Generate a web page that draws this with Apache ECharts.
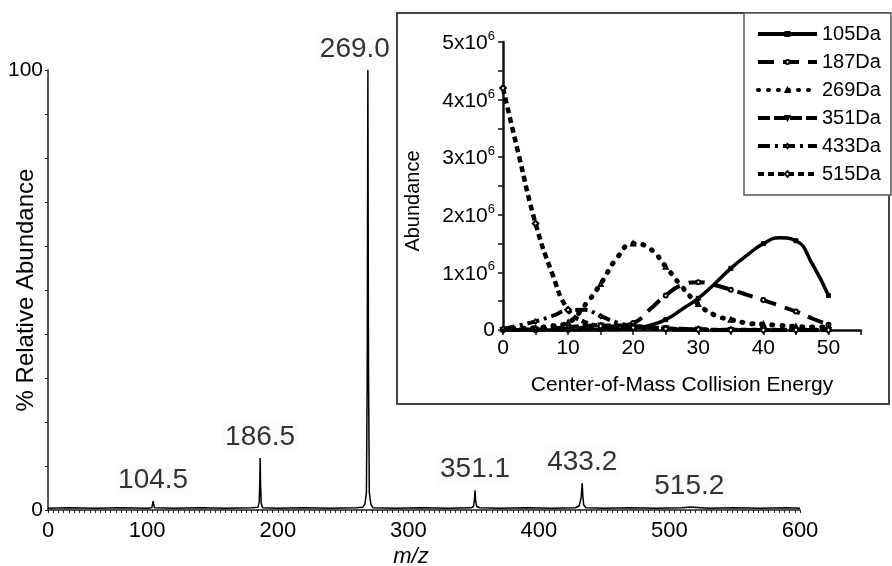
<!DOCTYPE html>
<html>
<head>
<meta charset="utf-8">
<script src="https://cdn.jsdelivr.net/npm/echarts@6/dist/echarts.min.js"></script>
<style>
html, body { margin: 0; padding: 0; background: #fff; }
#main { width: 892px; height: 566px; }
</style>
</head>
<body>
<div id="main"></div>
<script>
var FONT = '"Liberation Sans", Arial, Helvetica, sans-serif';

// spectrum trace: m/z and % relative abundance
var specMz = [24, 40, 60, 80, 100, 103.5, 104.1, 104.5, 104.9, 105.6, 120, 140, 160, 180,
    184.8, 185.8, 186.2, 186.5, 186.8, 187.3, 188.3, 200, 220, 240, 260,
    265, 266.8, 267.9, 268.5, 269.0, 269.5, 270.1, 271.3, 273, 290, 310, 330,
    348, 349.9, 350.6, 351.1, 351.6, 352.4, 354.5, 370, 390, 410,
    428, 430.8, 432.3, 432.8, 433.2, 433.6, 434.3, 436, 450, 470, 490,
    510, 514, 514.8, 515.2, 515.6, 516.5, 530, 550, 570, 590, 600];
var specInt = [0.4, 0.5, 0.4, 0.5, 0.4, 0.5, 1.4, 2.0, 1.3, 0.5, 0.4, 0.5, 0.4, 0.5,
    0.6, 1.8, 6, 11.8, 6, 1.6, 0.5, 0.4, 0.5, 0.4, 0.5,
    0.6, 1.4, 4, 30, 100, 32, 4, 1.3, 0.5, 0.4, 0.5, 0.4,
    0.5, 0.8, 2.2, 4.5, 2.0, 0.8, 0.5, 0.4, 0.5, 0.4,
    0.5, 0.9, 2.6, 4.5, 6.1, 3.5, 1.2, 0.5, 0.4, 0.5, 0.4,
    0.5, 0.6, 0.8, 0.8, 0.7, 0.5, 0.4, 0.5, 0.4, 0.5, 0.4];

// labelled peaks
var peakMz = [104.5, 186.5, 269.0, 351.1, 433.2, 515.2];
var peakInt = [2.0, 11.8, 100, 4.5, 6.1, 0.8];

// x tick labels of the spectrum (the "0" sits at the axis start)
var mzStart = 24;
var mzLabels = [100, 200, 300, 400, 500, 600];

// inset: abundance versus centre-of-mass collision energy
var energy = [0, 2.5, 5, 7.5, 10, 12.5, 15, 17.5, 20, 22.5, 25, 27.5, 30,
    32.5, 35, 37.5, 40, 42.5, 45, 47.5, 50];
var ionNames = ['105Da', '187Da', '269Da', '351Da', '433Da', '515Da'];
var da105 = [0, 0, 0, 0, 0, 0, 0.01e6, 0.01e6, 0.03e6, 0.08e6, 0.18e6, 0.36e6, 0.55e6,
    0.8e6, 1.07e6, 1.3e6, 1.5e6, 1.6e6, 1.55e6, 1.15e6, 0.6e6];
var da187 = [0, 0, 0, 0.01e6, 0.02e6, 0.04e6, 0.05e6, 0.07e6, 0.12e6, 0.35e6, 0.6e6, 0.78e6, 0.83e6,
    0.78e6, 0.7e6, 0.61e6, 0.52e6, 0.42e6, 0.32e6, 0.2e6, 0.09e6];
var da269 = [0.02e6, 0.03e6, 0.04e6, 0.07e6, 0.13e6, 0.42e6, 0.8e6, 1.25e6, 1.5e6, 1.42e6, 1.1e6, 0.75e6, 0.45e6,
    0.26e6, 0.18e6, 0.12e6, 0.1e6, 0.08e6, 0.06e6, 0.05e6, 0.05e6];
var da351 = [0, 0.01e6, 0.01e6, 0.03e6, 0.05e6, 0.07e6, 0.08e6, 0.08e6, 0.07e6, 0.05e6, 0.03e6, 0.02e6, 0.01e6,
    0, 0, 0, 0, 0, 0, 0, 0];
var da433 = [0.02e6, 0.08e6, 0.15e6, 0.24e6, 0.34e6, 0.35e6, 0.24e6, 0.13e6, 0.07e6, 0.04e6, 0.02e6, 0.01e6, 0.01e6,
    0, 0, 0, 0, 0, 0, 0, 0];
var da515 = [4.2e6, 3.0e6, 1.85e6, 1.0e6, 0.35e6, 0.14e6, 0.07e6, 0.05e6, 0.04e6, 0.03e6, 0.02e6, 0.01e6, 0.01e6,
    0, 0, 0, 0, 0, 0, 0, 0];

function pairs(xs, ys) {
    return xs.map(function (x, i) { return [x, ys[i]]; });
}

var chart = echarts.init(document.getElementById('main'));

var curveStyles = [
    { data: da105, dash: 'solid', width: 3.5, symbol: 'rect', rotate: 0 },
    { data: da187, dash: [16, 9], width: 4, symbol: 'emptyCircle', rotate: 0 },
    { data: da269, dash: [1, 9], width: 5, symbol: 'emptyTriangle', rotate: 0, cap: 'round' },
    { data: da351, dash: [12, 4], width: 4, symbol: 'emptyTriangle', rotate: 180 },
    { data: da433, dash: [12, 5, 3, 5], width: 4, symbol: 'emptyDiamond', rotate: 0 },
    { data: da515, dash: [6, 4], width: 4.5, symbol: 'emptyRect', rotate: 45 }
];

var insetSeries = curveStyles.map(function (c, i) {
    return {
        name: ionNames[i],
        type: 'line',
        xAxisIndex: 1,
        yAxisIndex: 1,
        smooth: 0.5,
        symbol: c.symbol,
        symbolRotate: c.rotate,
        // markers only on the 5-unit energy steps
        symbolSize: function (v) { return v[0] % 5 === 0 ? 4 : 0; },
        showSymbol: true,
        itemStyle: { color: '#000', borderColor: '#000', borderWidth: 1 },
        lineStyle: { color: '#000', width: c.width, type: c.dash, cap: c.cap || 'butt' },
        data: pairs(energy, c.data),
        z: 3
    };
});

var legendData = curveStyles.map(function (c, i) {
    return {
        name: ionNames[i],
        lineStyle: { width: 4, type: c.dash, cap: c.cap || 'butt' }
    };
});

var peakData = peakMz.map(function (m, i) {
    var item = { value: [m, peakInt[i]] };
    if (m === 269.0) {
        item.label = { offset: [-13, 0] };
    }
    return item;
});

var option = {
    backgroundColor: '#fff',
    animation: false,
    textStyle: { fontFamily: FONT, color: '#000' },
    grid: [
        { left: 48, right: 92, top: 70, bottom: 56, containLabel: false, outerBoundsMode: 'none' },
        { left: 503, right: 31, top: 42, bottom: 236, containLabel: false, outerBoundsMode: 'none' }
    ],
    legend: {
        data: legendData,
        orient: 'vertical',
        left: 744,
        top: 13,
        padding: [11, 10, 11, 12],
        itemGap: 8,
        itemWidth: 59,
        itemHeight: 5,
        itemTextGap: 3,
        selectedMode: false,
        backgroundColor: '#fff',
        borderColor: '#555',
        borderWidth: 1.5,
        borderRadius: 0,
        textStyle: { fontFamily: FONT, fontSize: 20, color: '#000' },
        z: 10
    },
    xAxis: [
        {
            type: 'value',
            gridIndex: 0,
            min: mzStart,
            max: 600,
            interval: 4,
            name: 'm/z',
            nameLocation: 'middle',
            nameGap: 36,
            nameMoveOverlap: false,
            nameTextStyle: { fontFamily: FONT, fontSize: 22, fontStyle: 'italic', color: '#000', padding: [0, 26, 0, 0] },
            axisLine: { lineStyle: { color: '#222', width: 1.5 } },
            axisTick: { length: 3, lineStyle: { color: '#222', width: 1 } },
            splitLine: { show: false },
            axisLabel: {
                fontSize: 22,
                color: '#000',
                margin: 10,
                showMinLabel: true,
                showMaxLabel: true,
                formatter: function (v) {
                    if (v === mzStart) return '0';
                    return mzLabels.indexOf(v) >= 0 ? String(v) : '';
                }
            }
        },
        {
            type: 'value',
            gridIndex: 1,
            min: 0,
            max: 55,
            interval: 5,
            name: 'Center-of-Mass Collision Energy',
            nameLocation: 'middle',
            nameGap: 45,
            nameMoveOverlap: false,
            nameTextStyle: { fontFamily: FONT, fontSize: 21, color: '#000' },
            axisLine: { lineStyle: { color: '#111', width: 2.5 } },
            axisTick: { length: 5, lineStyle: { color: '#111', width: 1.5 } },
            splitLine: { show: false },
            axisLabel: {
                fontSize: 21,
                color: '#000',
                margin: 8,
                formatter: function (v) { return v % 10 === 0 ? String(v) : ''; }
            }
        }
    ],
    yAxis: [
        {
            type: 'value',
            gridIndex: 0,
            min: 0,
            max: 100,
            interval: 10,
            name: '% Relative Abundance',
            nameLocation: 'middle',
            nameGap: 10,
            nameMoveOverlap: false,
            nameTextStyle: { fontFamily: FONT, fontSize: 24, color: '#000' },
            axisLine: { show: true, lineStyle: { color: '#222', width: 1.5 } },
            axisTick: { show: true, length: 3, lineStyle: { color: '#222', width: 1 } },
            splitLine: { show: false },
            axisLabel: {
                fontSize: 21,
                color: '#000',
                margin: 5,
                formatter: function (v) { return (v === 0 || v === 100) ? String(v) : ''; }
            }
        },
        {
            type: 'value',
            gridIndex: 1,
            min: 0,
            max: 5e6,
            interval: 5e5,
            name: 'Abundance',
            nameLocation: 'middle',
            nameGap: 80,
            nameMoveOverlap: false,
            nameTextStyle: { fontFamily: FONT, fontSize: 20, color: '#000', padding: [0, 30, 0, 0] },
            axisLine: { show: true, lineStyle: { color: '#111', width: 2.5 } },
            axisTick: { show: true, length: 5, lineStyle: { color: '#111', width: 1.5 } },
            splitLine: { show: false },
            axisLabel: {
                fontSize: 21,
                color: '#000',
                margin: 8,
                formatter: function (v) {
                    if (v === 0) return '0';
                    if (v % 1e6 === 0) return '{b|' + (v / 1e6) + 'x10}{s|6}';
                    return '';
                },
                rich: {
                    b: { fontFamily: FONT, fontSize: 21, color: '#000', lineHeight: 24, verticalAlign: 'bottom' },
                    s: { fontFamily: FONT, fontSize: 13, color: '#000', lineHeight: 12, verticalAlign: 'top' }
                }
            }
        }
    ],
    graphic: [
        {
            type: 'rect',
            shape: { x: 397, y: 13, width: 492, height: 391 },
            style: { fill: 'rgba(0,0,0,0)', stroke: '#444', lineWidth: 2 },
            z: 1,
            silent: true
        }
    ],
    series: [
        {
            name: 'spectrum',
            type: 'line',
            xAxisIndex: 0,
            yAxisIndex: 0,
            showSymbol: false,
            lineStyle: { color: '#000', width: 1.5 },
            data: pairs(specMz, specInt),
            z: 2
        },
        {
            name: 'peaks',
            type: 'scatter',
            xAxisIndex: 0,
            yAxisIndex: 0,
            symbolSize: 1,
            itemStyle: { color: 'rgba(0,0,0,0)' },
            label: {
                show: true,
                position: 'top',
                distance: 6,
                fontFamily: FONT,
                fontSize: 28,
                color: '#000',
                backgroundColor: '#fafafa',
                padding: [2, 3, 0, 3],
                formatter: function (p) { return p.value[0].toFixed(1); }
            },
            data: peakData,
            z: 4
        }
    ].concat(insetSeries)
};

chart.setOption(option);
</script>
</body>
</html>
